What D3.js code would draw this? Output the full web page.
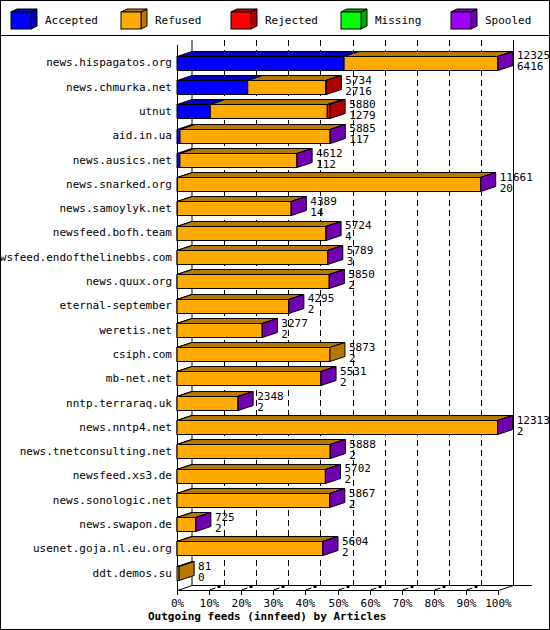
<!DOCTYPE html>
<html><head><meta charset="utf-8">
<script src="https://cdn.jsdelivr.net/npm/d3@7"></script>
<style>body{margin:0;background:#fff}text{font-family:"DejaVu Sans Mono",monospace;font-size:11px}</style>
</head><body><div id="main"></div>
<script>
const hosts = ["news.hispagatos.org","news.chmurka.net","utnut","aid.in.ua","news.ausics.net","news.snarked.org","news.samoylyk.net","newsfeed.bofh.team","newsfeed.endofthelinebbs.com","news.quux.org","eternal-september","weretis.net","csiph.com","mb-net.net","nntp.terraraq.uk","news.nntp4.net","news.tnetconsulting.net","newsfeed.xs3.de","news.sonologic.net","news.swapon.de","usenet.goja.nl.eu.org","ddt.demos.su"]
const offered  = [12325,5734,5880,5885,4612,11661,4389,5724,5789,5850,4295,3277,5873,5531,2348,12313,5888,5702,5867,725,5604,81]
const accepted = [6416,2716,1279,117,112,20,14,4,3,2,2,2,2,2,2,2,2,2,2,2,2,0]
const rejected = [0,20,110,0,0,0,0,0,0,0,0,0,0,0,0,0,0,0,0,0,0,0]
const missing  = [0,0,0,0,0,0,0,0,0,0,0,0,0,0,0,0,0,0,0,0,0,0]
const spooled  = [5,0,0,5,5,5,5,5,5,5,5,5,0,5,5,5,5,5,5,5,5,0]
const ticks = [0,10,20,30,40,50,60,70,80,90,100]
const series = ["Accepted","Refused","Rejected","Missing","Spooled"]
const front = ["#0000ff","#ffaa00","#ff0000","#00ff00","#a000ff"]
const dark  = ["#0000b8","#b87800","#b00000","#00a800","#7000b0"]

const W = 550, H = 630, dx = 15, dy = 5
const svg = d3.select("#main").append("svg").attr("width", W).attr("height", H)
svg.append("rect").attr("x",0.5).attr("y",0.5).attr("width",W-1).attr("height",H-1).attr("fill","#fff").attr("stroke","#000")
svg.append("line").attr("x1",0).attr("x2",W).attr("y1",35.5).attr("y2",35.5).attr("stroke","#000")

// legend
series.forEach((s, i) => {
  const x0 = 11 + i*110, y0 = 12, w = 20, h = 17, d = 6
  const g = svg.append("g").attr("stroke","#000")
  g.append("path").attr("d",`M${x0+w},${y0}l${d},${-3}v${h}l${-d},3z`).attr("fill",dark[i])
  g.append("path").attr("d",`M${x0},${y0}l${d},${-3}h${w}l${-d},3z`).attr("fill",dark[i])
  g.append("rect").attr("x",x0).attr("y",y0).attr("width",w).attr("height",h).attr("fill",front[i])
  svg.append("text").attr("x",x0+34).attr("y",y0+12).text(s)
})

const x = d3.scaleLinear().domain([0, d3.max(offered)]).range([177, 498])
const y = d3.scaleBand().domain(hosts).range([45, 590]).padding(0.44)
const yTop = 40, yBot = 585

// back planes
svg.append("line").attr("x1",192).attr("x2",192).attr("y1",yTop).attr("y2",yBot).attr("stroke","#000")
svg.append("line").attr("x1",513.5).attr("x2",513.5).attr("y1",yTop).attr("y2",yBot).attr("stroke","#000")
svg.append("line").attr("x1",192).attr("x2",532).attr("y1",yBot+0.5).attr("y2",yBot+0.5).attr("stroke","#000")
ticks.slice(1, -1).forEach(t => {
  const xv = Math.round(x(d3.max(offered)*t/100)) + dx + 0.5
  svg.append("line").attr("x1",xv).attr("x2",xv).attr("y1",yTop).attr("y2",yBot)
    .attr("stroke","#000").attr("stroke-dasharray","6,4")
})
// front axes
svg.append("path").attr("fill","none").attr("stroke","#000")
  .attr("d",`M177.5,45V590.5H498.5L513.5,${yBot+0.5}M177.5,590.5L192,${yBot+0.5}`)
ticks.forEach(t => {
  const xv = Math.round(x(d3.max(offered)*t/100)) + 0.5
  svg.append("line").attr("x1",xv).attr("x2",xv).attr("y1",590).attr("y2",595).attr("stroke","#000")
  if (t > 0 && t < 100) {
    svg.append("line").attr("x1",xv).attr("y1",590).attr("x2",xv+6).attr("y2",588).attr("stroke","#000")
    svg.append("rect").attr("x",xv+8).attr("y",585).attr("width",3).attr("height",3).attr("fill","#000")
  }
  svg.append("text").attr("x",xv).attr("y",607).attr("text-anchor","middle").text(t + "%")
})

// bars
hosts.forEach((h, i) => {
  const refused = offered[i] - accepted[i] - rejected[i] - missing[i] - spooled[i]
  const vals = [accepted[i], refused, rejected[i], missing[i], spooled[i]]
  const y0 = Math.round(y(h)) + 0.5, bh = Math.round(y.bandwidth())
  let acc = 0, last = -1, endX = x(0)
  const g = svg.append("g").attr("stroke","#000")
  vals.forEach((v, k) => {
    if (v <= 0) return
    const xa = x(acc), xb = x(acc + v)
    acc += v; last = k; endX = xb
    g.append("path").attr("d",`M${xa},${y0}l${dx},${-dy}H${xb+dx}l${-dx},${dy}z`).attr("fill",dark[k])
    g.append("rect").attr("x",xa).attr("y",y0).attr("width",xb-xa).attr("height",bh).attr("fill",front[k])
  })
  if (last >= 0)
    g.append("path").attr("d",`M${endX},${y0}l${dx},${-dy}v${bh}l${-dx},${dy}z`).attr("fill",dark[last])
  const c = y(h) + y.bandwidth()/2
  svg.append("text").attr("x",172).attr("y",c+4).attr("text-anchor","end").text(h)
  svg.append("text").attr("x",endX+dx+4).attr("y",c-3).text(offered[i])
  svg.append("text").attr("x",endX+dx+4).attr("y",c+8).text(accepted[i])
})

svg.append("text").attr("x",148).attr("y",620).attr("font-weight","bold").text("Outgoing feeds (innfeed) by Articles")
</script></body></html>
